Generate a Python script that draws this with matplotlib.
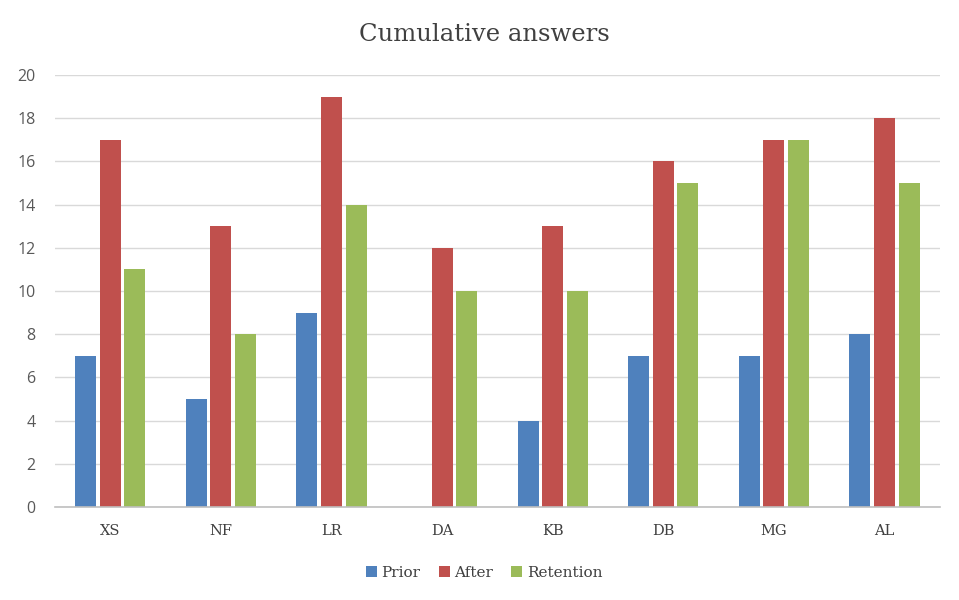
import matplotlib
matplotlib.use("Agg")
import matplotlib.pyplot as plt
import numpy as np

categories = ["XS", "NF", "LR", "DA", "KB", "DB", "MG", "AL"]
prior = [7, 5, 9, 0, 4, 7, 7, 8]
after = [17, 13, 19, 12, 13, 16, 17, 18]
retention = [11, 8, 14, 10, 10, 15, 17, 15]

series = [("Prior", prior, "#4F81BD"),
          ("After", after, "#C0504D"),
          ("Retention", retention, "#9BBB59")]

fig = plt.figure(figsize=(9.59, 6.0), dpi=100)
ax = fig.add_axes([0.0574, 0.155, 0.9226, 0.72])

x = np.arange(len(categories))
width = 0.19
step = 0.222
for i, (name, vals, color) in enumerate(series):
    ax.bar(x + (i - 1) * step, vals, width, color=color, label=name, zorder=3)

ax.set_xlim(-0.5, len(categories) - 0.5)
ax.set_ylim(0, 20)
ax.set_yticks(range(0, 21, 2))
ax.set_xticks(x)
ax.set_xticklabels(categories, fontfamily="DejaVu Serif", fontsize=10.5, color="#404040")
for lbl in ax.get_yticklabels():
    lbl.set_fontfamily("Open Sans")
    lbl.set_fontsize(11.5)
    lbl.set_color("#595959")

ax.grid(axis="y", color="#D9D9D9", linewidth=1, zorder=0)
for side in ["left", "right", "top"]:
    ax.spines[side].set_visible(False)
ax.spines["bottom"].set_color("#BFBFBF")
ax.spines["bottom"].set_linewidth(1.2)
ax.spines["bottom"].set_zorder(4)
ax.tick_params(axis="both", length=0)
ax.tick_params(axis="x", pad=12)
ax.tick_params(axis="y", pad=14)

fig.text(0.505, 0.943, "Cumulative answers", ha="center", va="center",
         fontfamily="DejaVu Serif", fontsize=17.5, color="#404040")

leg = fig.legend(loc="center", bbox_to_anchor=(0.505, 0.045), ncol=3, frameon=False,
                 handlelength=0.7, handleheight=0.7, handletextpad=0.3, columnspacing=1.2,
                 prop={"family": "DejaVu Serif", "size": 11})
for t in leg.get_texts():
    t.set_color("#404040")

fig.savefig("out.png", dpi=100, facecolor="white")
